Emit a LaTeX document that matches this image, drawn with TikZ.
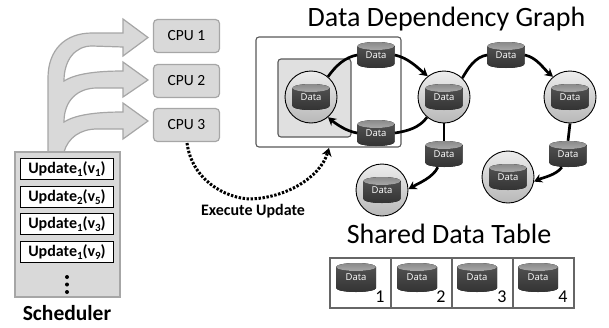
\documentclass[tikz,border=0pt]{standalone}
\usepackage{fontspec}
\setmainfont{Carlito}
\newfontfamily\datafont{Open Sans}
\usetikzlibrary{arrows.meta}
\definecolor{blockfill}{HTML}{D9D9D9}
\definecolor{blockedge}{HTML}{A6A6A6}
\definecolor{cylbodytop}{HTML}{555555}
\definecolor{cylbodybot}{HTML}{333333}
\definecolor{cylendtop}{HTML}{8A8A8A}
\definecolor{cylendbot}{HTML}{A8A8A8}
\newcommand{\datalabel}{\raisebox{-2pt}{Data}}
\newcommand{\sbs}[1]{\raisebox{-3.2pt}{\fontsize{11}{11}\selectfont #1}}
\tikzset{
  x=1pt,y=-1pt,
  cylpic/.style 2 args={rectangle,draw=none,text=white,inner sep=0pt,
    minimum width=#1,minimum height=#2,
    font=\datafont\fontsize{9.5}{9.5}\selectfont,
    path picture={
      \fill[top color=cylbodytop,bottom color=cylbodybot]
        ([yshift=-4pt]path picture bounding box.north west)
        -- ([yshift=4pt]path picture bounding box.south west)
        arc[start angle=180,end angle=360,x radius=#1/2,y radius=4pt]
        -- ([yshift=-4pt]path picture bounding box.north east)
        -- cycle;
      \fill[top color=cylendtop,bottom color=cylendbot]
        ([yshift=-4pt]path picture bounding box.north)
        ellipse[x radius=#1/2,y radius=4pt];
    }},
  smallcyl/.style={cylpic={37pt}{26pt}},
  bigcyl/.style={cylpic={40pt}{29pt}},
  vertex/.style={circle,draw=black,line width=0.9pt,minimum size=52pt,inner sep=0pt,
    top color=white!93!black,bottom color=white!72!black},
  cpubox/.style={draw=blockedge,fill=blockfill,line width=1.2pt,rounded corners=4pt,
    minimum width=66pt,minimum height=33pt,inner sep=0pt,font=\fontsize{15.5}{16}\selectfont},
  updbox/.style={draw=black,fill=white,line width=1.6pt,minimum width=93pt,minimum height=21pt,
    inner sep=0pt,font=\bfseries\fontsize{16}{16}\selectfont},
  edge/.style={draw=black,line width=2.7pt},
  edgearrow/.style={edge,-{Stealth[length=8pt,width=9pt]}},
  cellbox/.style={draw=black!60,line width=1.2pt,minimum width=61pt,minimum height=50pt,inner sep=0pt},
  cellnum/.style={font=\fontsize{18}{18}\selectfont,inner sep=0pt},
  titletext/.style={font=\fontsize{28}{28}\selectfont,inner sep=0pt},
}
\begin{document}
\begin{tikzpicture}
\useasboundingbox (0,0) rectangle (609,327);
% block arrows
\path[fill=blockfill,draw=blockedge,line width=1.2pt,line join=miter]
 (48,152) -- (48,78) .. controls (48,50) and (65,33) .. (92,33) -- (123,33) -- (123,19) -- (148,37.5) -- (123,56) -- (123,47)
 -- (92,46) .. controls (75,46) and (64,60) .. (64,81)
 .. controls (75,74) and (95,71) .. (123,71) -- (123,62) -- (148,80) -- (123,97) -- (123,88)
 -- (97,88) .. controls (78,88) and (64,100) .. (64,122)
 .. controls (75,115) and (95,112) .. (123,112) -- (123,103) -- (148,121) -- (123,139) -- (123,129)
 -- (97,129) .. controls (80,129) and (68,138) .. (64,152) -- cycle;
% CPUs
\node[cpubox] (cpu1) at (186.5,36) {CPU 1};
\node[cpubox] (cpu2) at (186.5,81) {CPU 2};
\node[cpubox] (cpu3) at (186.5,125) {CPU 3};
% scheduler
\node[draw=blockedge,fill=blockfill,line width=1.2pt,minimum width=105pt,minimum height=145pt,inner sep=0pt] (sched) at (67.5,224.5) {};
\node[updbox] (u1) at (67,169) {Update\sbs{1}(v\sbs{1})};
\node[updbox] (u2) at (67,197) {Update\sbs{2}(v\sbs{5})};
\node[updbox] (u3) at (67,224) {Update\sbs{1}(v\sbs{3})};
\node[updbox] (u4) at (67,252) {Update\sbs{1}(v\sbs{9})};
\fill[black] (67,277) circle (2pt) (67,284.5) circle (2pt) (67,292) circle (2pt);
\node[inner sep=0pt,font=\bfseries\fontsize{21.5}{21.5}\selectfont] (schedlabel) at (67,313) {Scheduler};
% scope boxes
\node[draw=black!65,fill=white,line width=1.1pt,rounded corners=3pt,minimum width=145pt,minimum height=110pt,inner sep=0pt] (outer) at (328.5,92) {};
\node[draw=black!65,fill=black!12,line width=1.1pt,rounded corners=3pt,minimum width=73pt,minimum height=78pt,inner sep=0pt] (inner) at (314.5,98) {};
% titles
\node[titletext] (title1) at (446.5,19) {Data Dependency Graph};
\node[titletext] (title2) at (449,234) {Shared Data Table};
% vertices
\node[vertex] (c1) at (311,97) {}; \node[smallcyl] at (c1) {\datalabel};
\node[vertex] (c2) at (444,97) {}; \node[smallcyl] at (c2) {\datalabel};
\node[vertex] (c3) at (570,97) {}; \node[smallcyl] at (c3) {\datalabel};
\node[vertex] (c4) at (382,190) {}; \node[smallcyl] at (c4) {\datalabel};
\node[vertex] (c5) at (508,177) {}; \node[smallcyl] at (c5) {\datalabel};
% data on edges
\node[smallcyl] (d1) at (376,55) {\datalabel};
\node[smallcyl] (d2) at (376,133) {\datalabel};
\node[smallcyl] (d3) at (506,55) {\datalabel};
\node[smallcyl] (d4) at (444,154) {\datalabel};
\node[smallcyl] (d5) at (568,154) {\datalabel};
% edges
\draw[edge] (c1.50) to[out=55,in=190,looseness=0.9] (d1.west);
\draw[edgearrow] (d1.east) to[out=-12,in=140,looseness=0.9] (c2.128);
\draw[edge] (c2.-130) to[out=-125,in=8,looseness=0.9] (d2.east);
\draw[edgearrow] (d2.west) to[out=172,in=-40,looseness=0.8] (c1.-50);
\draw[edge] (c2.46) to[out=60,in=188,looseness=0.9] (d3.west);
\draw[edgearrow] (d3.east) to[out=-12,in=140,looseness=0.9] (c3.130);
\draw[edge] (c2.-90) -- (d4.north);
\draw[edgearrow] (d4.-115) to[out=-115,in=30,looseness=0.8] (c4.2);
\draw[edge] (c3.-90) -- (d5.north);
\draw[edgearrow] (d5.-115) to[out=-125,in=25,looseness=0.8] (c5.-10);
% dotted connector
\coordinate (exstart) at (187,143);
\coordinate (extip) at (329,148);
\draw[line width=3pt,dash pattern=on 2.4pt off 1.6pt,black,-{Stealth[length=8pt,width=10pt]}] (exstart)
  .. controls (192,180) and (225,198) .. (250,199)
  .. controls (285,198) and (320,178) .. (extip);
\node[inner sep=0pt,font=\bfseries\fontsize{16}{16}\selectfont] (exlabel) at (253,211) {Execute Update};
% table
\node[cellbox] (t1) at (360.5,283) {};
\node[cellbox] (t2) at (421.5,283) {};
\node[cellbox] (t3) at (482.5,283) {};
\node[cellbox] (t4) at (543.5,283) {};
\node[bigcyl] (td1) at (356,277.5) {\datalabel};
\node[bigcyl] (td2) at (417,277.5) {\datalabel};
\node[bigcyl] (td3) at (477,277.5) {\datalabel};
\node[bigcyl] (td4) at (538,277.5) {\datalabel};
\node[cellnum] (n1) at (380,297) {1};
\node[cellnum] (n2) at (441,297) {2};
\node[cellnum] (n3) at (502,297) {3};
\node[cellnum] (n4) at (563,297) {4};
\end{tikzpicture}
\end{document}
